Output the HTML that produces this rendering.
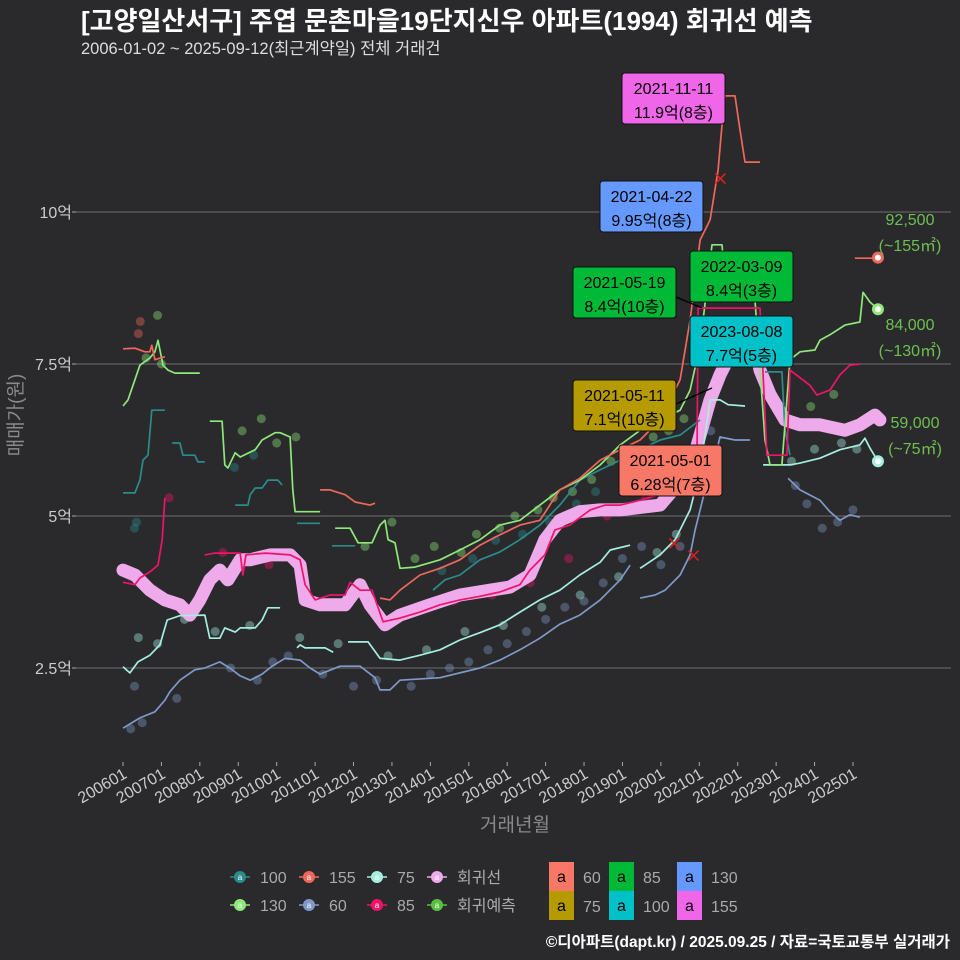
<!DOCTYPE html>
<html><head><meta charset="utf-8"><style>
html,body{margin:0;padding:0;background:#2a2a2c;}
svg{display:block;font-family:"Liberation Sans","Noto Sans CJK KR",sans-serif;}
</style></head><body>
<svg id="chart" width="960" height="960" viewBox="0 0 960 960" xmlns="http://www.w3.org/2000/svg">
<rect x="0" y="0" width="960" height="960" fill="#2a2a2c"/>
<text x="81" y="30" fill="#ffffff" font-size="26" font-weight="bold">[고양일산서구] 주엽 문촌마을19단지신우 아파트(1994) 회귀선 예측</text>
<text x="81" y="54" fill="#dddddd" font-size="16.5">2006-01-02 ~ 2025-09-12(최근계약일) 전체 거래건</text>
<g id="grid"></g>
<g id="series"></g>
<g id="annot"></g>
<text transform="translate(22,415) rotate(-90)" text-anchor="middle" fill="#8a8a8a" font-size="19">매매가(원)</text>
<text x="515" y="831" text-anchor="middle" fill="#8a8a8a" font-size="19">거래년월</text>
<g id="legend"></g>
<text x="950" y="947" text-anchor="end" fill="#ffffff" font-size="15.5" font-weight="bold">©디아파트(dapt.kr) / 2025.09.25 / 자료=국토교통부 실거래가</text>
</svg>
<script>
const yTicks=[2.5,5,7.5,10];
const yTickLabels=["2.5억","5억","7.5억","10억"];
const xTickYears=[2006,2007,2008,2009,2010,2011,2012,2013,2014,2015,2016,2017,2018,2019,2020,2021,2022,2023,2024,2025];
const xTickLabels=["200601","200701","200801","200901","201001","201101","201201","201301","201401","201501","201601","201701","201801","201901","202001","202101","202201","202301","202401","202501"];

const regT=[2006.0,2006.31,2006.7,2007.09,2007.48,2007.74,2008.0,2008.26,2008.52,2008.73,2009.05,2009.31,2009.83,2010.35,2010.61,2010.74,2011.13,2011.78,2012.17,2012.43,2012.82,2013.21,2013.99,2014.77,2015.55,2016.07,2016.59,2016.98,2017.37,2017.89,2018.42,2018.94,2019.98,2020.76,2021.02,2021.28,2021.54,2021.8,2022.06,2022.45,2022.58,2022.84,2023.23,2023.62,2024.14,2024.79,2025.18,2025.57,2025.7];
const regV=[4.11,4.03,3.78,3.62,3.54,3.37,3.62,3.95,4.11,3.95,4.28,4.28,4.36,4.36,4.19,3.62,3.54,3.54,3.87,3.54,3.21,3.37,3.54,3.7,3.78,3.83,4.03,4.61,4.93,5.07,5.1,5.1,5.18,5.76,6.33,6.91,7.32,7.65,7.81,7.81,7.4,7.0,6.58,6.5,6.5,6.41,6.5,6.66,6.58];

const s60T=[2006.0,2006.44,2006.83,2007.09,2007.22,2007.48,2007.87,2008.13,2008.52,2008.78,2009.05,2009.31,2009.62,2009.88,2010.22,2010.61,2010.87,2011.13,2011.65,2012.17,2012.56,2012.69,2012.95,2013.21,2014.25,2015.29,2015.81,2016.33,2016.85,2017.37,2017.89,2018.42,2018.94,2019.2,null,2019.46,2019.85,2020.11,2020.5,2020.76,2020.89,2021.02,2021.15,2021.33,2021.54,2021.93,2022.32,null,2023.31,2023.62,2024.14,2024.4,2024.66,2024.92,2025.18];
const s60V=[1.51,1.68,1.78,1.97,2.11,2.3,2.47,2.5,2.6,2.5,2.37,2.3,2.4,2.53,2.66,2.63,2.5,2.4,2.53,2.53,2.34,2.14,2.14,2.3,2.34,2.5,2.63,2.8,2.99,3.22,3.37,3.62,3.95,4.19,null,3.65,3.7,3.78,4.03,4.36,4.77,5.1,5.43,5.76,6.3,6.25,6.25,null,5.62,5.43,5.26,5.07,4.93,5.02,4.98];

const s75T=[2006.0,2006.18,2006.39,2006.7,2006.96,2007.15,2007.48,2008.13,2008.26,2008.52,2008.65,2008.92,2009.05,2009.44,2009.62,2009.77,2010.09,null,2010.53,2010.61,2010.74,2011.26,2011.47,null,2011.86,2012.38,2012.69,2013.21,2013.73,2014.25,2014.77,2015.29,2015.81,2016.33,2016.85,2017.37,2017.89,2018.42,2018.68,2019.2,null,2019.46,2019.98,2020.37,2020.76,2021.02,2021.28,2021.54,2021.75,2022.19,null,2022.66,2023.36,2023.62,2024.14,2024.66,2025.18,2025.31,2025.44,2025.65];
const s75V=[2.52,2.42,2.6,2.71,2.88,3.29,3.36,3.37,2.99,2.99,3.16,3.09,3.16,3.16,3.29,3.49,3.49,null,2.83,2.88,2.83,2.83,2.76,null,2.93,2.93,2.66,2.63,2.71,2.8,2.96,3.08,3.21,3.42,3.62,3.78,4.03,4.24,4.44,4.52,null,4.14,4.36,4.61,5.1,5.76,6.91,6.91,6.83,6.81,null,5.84,5.84,5.87,5.95,6.09,6.17,6.28,6.12,5.9];

const s85T=[2006.0,2006.31,2006.44,2006.7,2006.91,2007.02,2007.09,null,2008.13,2008.39,2009.05,2009.12,2009.2,2009.7,2010.35,2010.61,2010.74,2011.0,2011.39,2011.78,2011.91,2012.17,2012.48,2012.77,2013.21,2013.73,2014.25,2014.77,2015.29,2015.81,2016.33,2016.59,2016.98,2017.24,2017.63,2018.16,2018.55,2018.94,2019.46,2019.98,2020.37,2020.76,2020.94,2020.97,2022.58,2022.76,2023.28,2023.36,2023.88,2024.06,2024.4,2024.66,2024.92,2025.18];
const s85V=[3.91,3.87,3.98,4.08,4.19,4.61,5.3,null,4.36,4.39,4.39,4.03,4.36,4.39,4.36,4.28,3.87,3.62,3.7,3.7,3.91,3.78,3.78,3.26,3.32,3.42,3.54,3.62,3.68,3.75,3.87,4.11,4.36,4.77,4.85,5.1,5.18,5.18,5.26,5.35,5.43,5.51,6.0,8.42,8.42,6.0,6.0,7.4,7.15,6.99,7.07,7.32,7.48,7.5];

const s100T=[2006.0,2006.31,2006.44,2006.52,2006.65,2006.75,2007.09,null,2007.28,2007.48,2007.56,2007.87,2007.95,2008.13,null,2008.92,2009.25,2009.31,2009.44,2009.62,2009.77,2010.03,2010.14,null,2010.53,2011.13,null,2011.44,2012.04,null,2014.07,2014.38,2014.77,2015.29,2015.81,2016.33,2016.85,2017.37,2017.89,2018.42,2018.94,2019.46,2019.98,2020.5,2021.02,null,2022.71,2023.15,2023.23,2023.36];
const s100V=[5.38,5.38,5.59,5.92,6.0,6.74,6.74,null,6.2,6.2,6.0,6.0,5.89,5.89,null,5.18,5.18,5.35,5.46,5.46,5.59,5.59,5.51,null,4.88,4.88,null,4.51,4.51,null,3.78,3.95,4.03,4.28,4.41,4.61,4.85,5.18,5.59,5.76,5.92,6.09,6.25,6.33,6.58,null,7.37,7.37,6.41,6.0];

const s130T=[2006.0,2006.13,2006.26,2006.44,2006.7,2006.83,2006.91,2007.04,2007.17,2007.35,2008.0,null,2008.26,2008.58,2008.65,2008.73,2008.92,2009.05,2009.44,2009.62,2009.96,2010.09,2010.35,2010.42,2010.48,2011.13,null,2011.52,2011.91,2012.12,2012.48,2012.69,2012.82,2012.9,2013.08,2013.21,2013.6,2014.25,2014.77,2015.29,2015.81,2016.33,2016.85,2017.37,2017.89,2018.42,2018.94,2019.46,2019.98,2020.5,2020.76,2021.02,2021.33,2021.59,2021.67,2022.19,2022.45,2022.71,2022.84,2023.15,2023.36,2023.62,2024.01,2024.14,2024.4,2024.79,2025.18,2025.26,2025.44,2025.65];
const s130V=[6.81,6.91,7.15,7.48,7.6,7.7,7.89,7.48,7.4,7.35,7.35,null,6.56,6.56,5.84,5.79,6.04,5.97,6.09,6.25,6.37,6.37,6.3,5.43,5.07,5.07,null,4.8,4.8,4.56,4.56,4.85,4.93,4.61,4.56,4.14,4.16,4.28,4.44,4.61,4.85,4.93,5.18,5.43,5.59,5.84,6.17,6.41,6.58,6.74,7.07,7.81,9.46,9.46,8.88,8.88,8.55,6.25,5.84,5.84,7.57,7.7,7.73,7.89,7.98,8.14,8.19,8.68,8.52,8.4];

const s155T=[2006.0,2006.31,2006.57,2006.7,2006.75,2006.83,2007.09,null,2011.13,2011.39,2011.78,2012.04,2012.43,2012.56,null,2012.69,2012.95,2013.21,2013.73,2014.25,2014.77,2015.29,2015.81,2016.33,2016.85,2017.37,2017.89,2018.42,2018.94,2019.46,2019.98,2020.5,2020.76,2021.02,2021.28,2021.49,2021.59,2021.67,2021.93,2022.06,2022.19,2022.58,null,2025.05,2025.65];
const s155V=[7.75,7.76,7.7,7.7,7.81,7.57,7.62,null,5.43,5.43,5.35,5.23,5.18,5.21,null,3.65,3.62,3.78,4.03,4.14,4.28,4.52,4.69,4.85,4.93,5.43,5.62,5.92,6.09,6.25,6.58,7.24,8.22,9.54,9.87,10.69,11.43,11.91,11.91,11.35,10.82,10.82,null,9.24,9.24];

const dotT=[2006.3,2006.35,2006.4,2006.45,2006.6,2006.9,2007.0,2007.2,2006.3,2006.2,2006.5,2007.4,2008.8,2009.5,2009.9,2010.3,2011.2,2012.0,2012.6,2013.5,2014.0,2014.5,2015.0,2015.5,2016.0,2016.5,2017.0,2017.5,2018.0,2018.5,2019.0,2019.5,2020.0,2020.5,2021.0,2021.3,2023.5,2023.8,2024.2,2024.6,2025.0,2006.4,2006.9,2007.6,2008.4,2009.3,2010.6,2011.6,2012.9,2013.9,2014.9,2015.9,2016.9,2017.9,2018.9,2019.9,2020.4,2021.2,2023.4,2024.0,2024.7,2025.1,2006.2,2006.8,2007.3,2008.6,2009.8,2013.4,2014.6,2015.6,2016.6,2017.6,2018.6,2019.6,2020.8,2023.9,2024.5,
 2013.6,2014.1,2014.8,2015.2,2015.8,2016.2,2016.8,2017.2,2017.7,2018.2,2018.7,2019.2,2019.8,2020.2,2020.6,2014.3,2015.1,2015.7,2016.4,2017.1,2017.8,2018.3,2019.1,2019.7,2020.3,2009.1,2009.6,2010.0,2010.5,2012.3,2013.0,2008.9,2009.4];
const dotV=[4.8,4.9,8.0,8.2,7.6,8.3,7.5,5.3,2.2,1.5,1.6,2.0,2.5,2.3,2.6,2.7,2.4,2.2,2.3,2.2,2.4,2.5,2.6,2.8,2.9,3.1,3.3,3.5,3.6,3.9,4.3,4.5,4.2,4.5,5.8,6.4,5.5,5.2,4.8,4.9,5.1,3.0,2.9,3.3,3.1,3.2,3.0,2.9,2.7,2.8,3.1,3.2,3.5,3.7,4.0,4.4,4.7,6.0,5.9,6.1,6.2,6.1,4.0,3.8,3.6,4.4,4.2,3.4,3.6,3.7,3.9,4.3,5.0,5.3,5.5,6.8,7.0,
 4.3,4.5,4.4,4.7,4.8,5.0,5.1,5.3,5.4,5.6,5.9,6.1,6.3,6.4,6.6,4.1,4.3,4.6,4.7,4.9,5.2,5.4,5.7,5.9,6.1,6.4,6.6,6.2,6.3,4.5,4.9,5.8,6.0];
const dotType=["100","100","155","155","130","130","130","85","60","60","60","60","60","60","60","60","60","60","60","60","60","60","60","60","60","60","60","60","60","60","60","60","60","60","60","60","60","60","60","60","60","75","75","75","75","75","75","75","75","75","75","75","75","75","75","75","75","75","75","75","75","75","85","85","85","85","85","85","85","85","85","85","85","85","85","130","130",
 "130","130","130","130","130","130","130","130","130","130","130","130","130","130","130","100","100","100","100","100","100","100","100","100","100","130","130","130","130","130","130","100","100"];

const colors={"100":"#2a8c8c","130":"#8ee87a","155":"#f0675c","60":"#7f99c9","75":"#a5efe0","85":"#f0136a","reg":"#eeaaea","pred":"#58c040"};
const NS="http://www.w3.org/2000/svg";
const X0=76,X1=951;
function xs(t){return 123+(t-2006)*38.42;}
function ys(v){return 516-(v-5)*60.8;}
function mk(tag,attrs,parent){const e=document.createElementNS(NS,tag);for(const k in attrs)e.setAttribute(k,attrs[k]);parent.appendChild(e);return e;}

const grid=document.getElementById('grid');
yTicks.forEach((v,i)=>{
  const l=mk('line',{x1:X0,x2:X1,y1:ys(v),y2:ys(v),stroke:'#6e6e6e','stroke-width':1},grid);
  
  
  const tk=mk('line',{x1:X0-4,x2:X0,y1:ys(v),y2:ys(v),stroke:'#aaaaaa'},grid);
  
  
  const t=mk('text',{x:X0-4,y:ys(v)+6,'text-anchor':'end',fill:'#cccccc','font-size':16},grid);
  t.textContent=yTickLabels[i];
  
  
});
xTickYears.forEach((yr,i)=>{
  const x=xs(yr);
  const tk=mk('line',{x1:x,x2:x,y1:762,y2:766,stroke:'#aaaaaa'},grid);
  
  
  const t=mk('text',{x:x+5,y:777,'text-anchor':'end',fill:'#cccccc','font-size':16,transform:'rotate(-30 '+(x+5)+' 777)'},grid);
  t.textContent=xTickLabels[i];
  
  
});

const sg=document.getElementById('series');
function pathD(T,V){let d='',pen=false;for(let i=0;i<T.length;i++){if(T[i]===null){pen=false;continue;}d+=(pen?'L':'M')+xs(T[i]).toFixed(1)+' '+ys(V[i]).toFixed(1);pen=true;}return d;}
for(let i=0;i<dotT.length;i++){
  const c=mk('circle',{cx:xs(dotT[i]),cy:ys(dotV[i]),r:4.5,fill:colors[dotType[i]],'fill-opacity':0.4},sg);
  
  
}
const reg=mk('path',{d:pathD(regT,regV),fill:'none',stroke:colors.reg,'stroke-width':13,'stroke-linejoin':'round','stroke-linecap':'round'},sg);


const lines=[["60",s60T,s60V],["75",s75T,s75V],["100",s100T,s100V],["130",s130T,s130V],["155",s155T,s155V],["85",s85T,s85V]];
lines.forEach(([k,T,V])=>{
  const p=mk('path',{d:pathD(T,V),fill:'none',stroke:colors[k],'stroke-width':1.7,'stroke-linejoin':'round'},sg);
  
  
});
const endK=["155","130","75"],endT=[2025.65,2025.65,2025.65],endV=[9.25,8.4,5.9];
const endL1=["92,500","84,000","59,000"],endL2=["(~155㎡)","(~130㎡)","(~75㎡)"];
const endLX=[910,910,915];
const endLY=[225,330,428];
endK.forEach((k,i)=>{
  const c=mk('circle',{cx:xs(endT[i]),cy:ys(endV[i]),r:6,fill:colors[k]},sg);
  
  
  const c2=mk('circle',{cx:xs(endT[i]),cy:ys(endV[i]),r:3,fill:'#ffffff'},sg);
  
  
  const t1=mk('text',{x:endLX[i],y:endLY[i],'text-anchor':'middle',fill:'#6cc050','font-size':16},sg);
  t1.textContent=endL1[i];
  
  
  const t2=mk('text',{x:endLX[i],y:endLY[i]+26,'text-anchor':'middle',fill:'#6cc050','font-size':16},sg);
  t2.textContent=endL2[i];
  
  
});
[[2021.55,10.55],[2020.35,4.55],[2020.85,4.35]].forEach(p=>{
  const x=xs(p[0]),y=ys(p[1]);
  const m=mk('path',{d:`M${x-5} ${y-5}L${x+5} ${y+5}M${x-5} ${y+5}L${x+5} ${y-5}`,stroke:'#e02020','stroke-width':1.5},sg);
  
  
});

const ag=document.getElementById('annot');
const ann=[
 ["2021-11-11","11.9억(8층)","#f066e8",622,73],
 ["2021-04-22","9.95억(8층)","#6699ff",600,181],
 ["2021-05-19","8.4억(10층)","#00b936",573,267],
 ["2022-03-09","8.4억(3층)","#00b936",690,251],
 ["2023-08-08","7.7억(5층)","#00c0c8",690,316],
 ["2021-05-11","7.1억(10층)","#b59a00",573,380],
 ["2021-05-01","6.28억(7층)","#f87868",619,445]
];
const c1=mk('line',{x1:676,y1:297,x2:702,y2:308,stroke:'#000','stroke-width':1.3},ag);


const c2=mk('line',{x1:676,y1:404,x2:712,y2:388,stroke:'#000','stroke-width':1.3},ag);


ann.forEach(a=>{
  const g=mk('g',{},ag);
  
  
  mk('rect',{x:a[3],y:a[4],width:103,height:51,rx:3,fill:a[2],stroke:'#111','stroke-width':1},g);
  const t1=mk('text',{x:a[3]+51.5,y:a[4]+21,'text-anchor':'middle',fill:'#000','font-size':16},g);t1.textContent=a[0];
  const t2=mk('text',{x:a[3]+51.5,y:a[4]+45,'text-anchor':'middle',fill:'#000','font-size':16},g);t2.textContent=a[1];
});

const lg=document.getElementById('legend');
const legKeys=[["100","130"],["155","60"],["75","85"],["회귀선","회귀예측"]];
const legCols=[["100","130"],["155","60"],["75","85"],["reg","pred"]];
const legIconX=[240,309,377,437];
const legRowY=[877,905];
legKeys.forEach((col,ci)=>{
  col.forEach((lab,ri)=>{
    const g=mk('g',{},lg);
    
    
    const x=legIconX[ci],y=legRowY[ri],c=colors[legCols[ci][ri]];
    mk('line',{x1:x-10,x2:x+10,y1:y,y2:y,stroke:c,'stroke-width':1.5},g);
    mk('circle',{cx:x,cy:y,r:6,fill:c},g);
    mk('text',{x:x,y:y+3,'text-anchor':'middle',fill:'#fff','font-size':8},g).textContent='a';
    const t=mk('text',{x:x+20,y:y+6,fill:'#aaaaaa','font-size':16},g);t.textContent=lab;
  });
});
const boxLab=[["60","75"],["85","100"],["130","155"]];
const boxCol=[["#f87868","#b59a00"],["#00b936","#00c0c8"],["#6699ff","#f066e8"]];
const boxX=[549,609,677];
boxLab.forEach((col,ci)=>{
  col.forEach((lab,ri)=>{
    const g=mk('g',{},lg);
    
    
    const y=862+ri*29;
    mk('rect',{x:boxX[ci],y:y,width:25,height:29,fill:boxCol[ci][ri]},g);
    mk('text',{x:boxX[ci]+12.5,y:y+20,'text-anchor':'middle',fill:'#000','font-size':16},g).textContent='a';
    mk('text',{x:boxX[ci]+34,y:y+21,fill:'#aaaaaa','font-size':16},g).textContent=lab;
  });
});
</script>
</body></html>
